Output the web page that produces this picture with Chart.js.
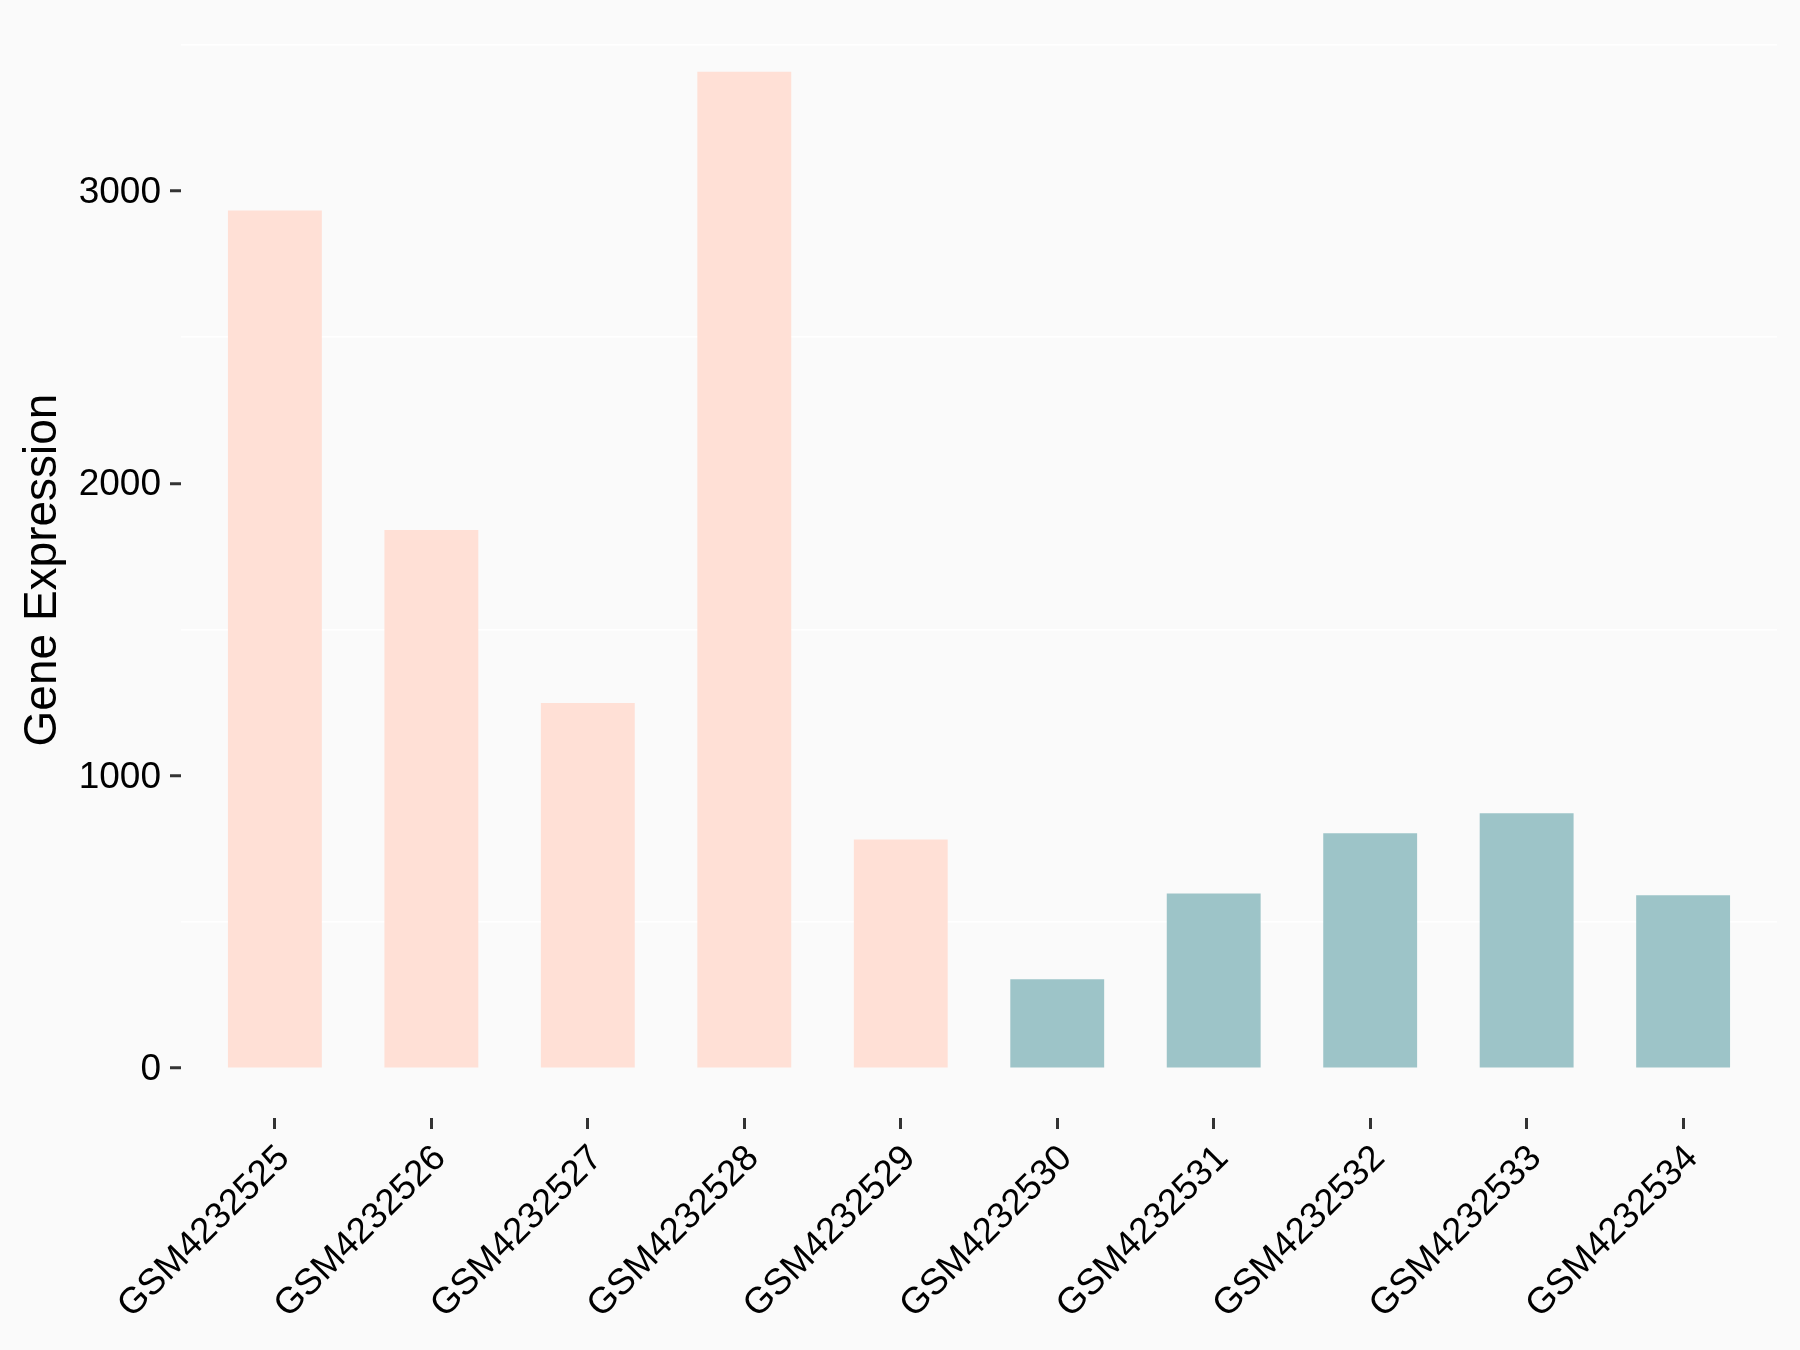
<!DOCTYPE html>
<html>
<head>
<meta charset="utf-8">
<script src="https://cdn.jsdelivr.net/npm/chart.js@4.4.1/dist/chart.umd.min.js"></script>
<style>
  html, body { margin: 0; padding: 0; background: #FAFAFA; }
  #wrap { width: 1800px; height: 1350px; }
</style>
</head>
<body>
<div id="wrap"><canvas id="c" width="1800" height="1350"></canvas></div>
<script>
// ---- data ----
const categories = ['GSM4232525','GSM4232526','GSM4232527','GSM4232528','GSM4232529',
                    'GSM4232530','GSM4232531','GSM4232532','GSM4232533','GSM4232534'];
const expression = [2933, 1840, 1249, 3407, 782, 304, 597, 803, 872, 591];
const groups = ['A','A','A','A','A','B','B','B','B','B'];
const yTickValues = [0, 1000, 2000, 3000];
const yMinorValues = [500, 1500, 2500, 3500];
const yAxisTitle = 'Gene Expression';

// ---- styles ----
const groupColors = { A: '#FFE0D6', B: '#9DC4C8' };
const FONT = "'Liberation Sans', Arial, sans-serif";

const dataMax = Math.max(...expression);
const yMin = -0.05 * dataMax;
const yMax = 1.05 * dataMax;

const bgPlugin = {
  id: 'bg',
  beforeDraw(chart) {
    const ctx = chart.ctx;
    ctx.save();
    ctx.fillStyle = '#FAFAFA';
    ctx.fillRect(0, 0, chart.width, chart.height);
    ctx.restore();
  }
};

new Chart(document.getElementById('c'), {
  type: 'bar',
  data: {
    datasets: [{
      data: expression.map((v, i) => ({ x: i + 1, y: v })),
      backgroundColor: groups.map(g => groupColors[g]),
      borderWidth: 0,
      categoryPercentage: 1,
      barPercentage: 0.6
    }]
  },
  options: {
    responsive: false,
    devicePixelRatio: 1,
    animation: false,
    layout: { padding: { top: 22, right: 23, left: 0, bottom: 0 } },
    plugins: { legend: { display: false }, tooltip: { enabled: false } },
    scales: {
      x: {
        type: 'linear',
        min: 0.4,
        max: categories.length + 0.6,
        offset: false,
        afterBuildTicks(scale) {
          scale.ticks = categories.map((c, i) => ({ value: i + 1 }));
        },
        afterFit(scale) { scale.height = 232; },
        border: { display: false },
        grid: {
          offset: false,
          drawOnChartArea: false,
          drawTicks: true,
          tickLength: 11,
          tickColor: '#333333',
          tickWidth: 3,
          color: 'rgba(0,0,0,0)'
        },
        ticks: {
          autoSkip: false,
          maxRotation: 45,
          minRotation: 45,
          padding: 8,
          labelOffset: 9,
          color: '#000000',
          font: { family: FONT, size: 36.5 },
          callback: (v) => categories[Math.round(v) - 1] || ''
        }
      },
      y: {
        type: 'linear',
        min: yMin,
        max: yMax,
        afterBuildTicks(scale) {
          scale.ticks = yTickValues.concat(yMinorValues).sort((a, b) => a - b).map(v => ({ value: v }));
        },
        afterFit(scale) {
          scale.width = 181;
          scale.paddingTop = 0;
          scale.paddingBottom = 0;
        },
        border: { display: false },
        grid: {
          drawTicks: true,
          tickLength: 11,
          lineWidth: 1.5,
          tickWidth: 3,
          color: (ctx) => (ctx.tick && yMinorValues.includes(ctx.tick.value)) ? '#FFFFFF' : 'rgba(0,0,0,0)',
          tickColor: (ctx) => (ctx.tick && yTickValues.includes(ctx.tick.value)) ? '#333333' : 'rgba(0,0,0,0)'
        },
        ticks: {
          padding: 9,
          labelOffset: 2,
          color: '#000000',
          font: { family: FONT, size: 37 },
          callback: (v) => yTickValues.includes(v) ? String(v) : ''
        },
        title: {
          display: true,
          text: yAxisTitle,
          color: '#000000',
          font: { family: FONT, size: 46 },
          padding: { top: 16, bottom: 0 }
        }
      }
    }
  },
  plugins: [bgPlugin]
});
</script>
</body>
</html>
